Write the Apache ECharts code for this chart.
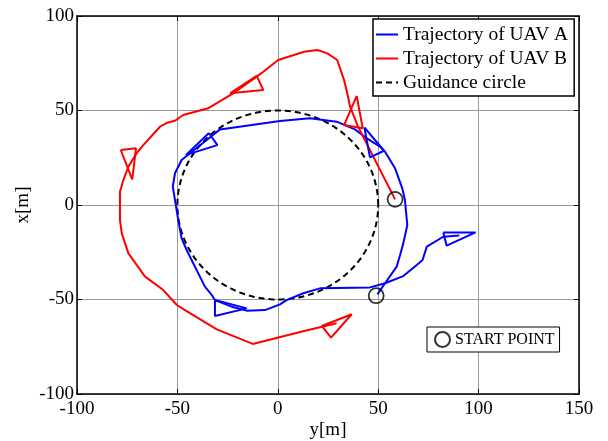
<!DOCTYPE html>
<html>
<head>
<meta charset="utf-8">
<script src="https://cdn.jsdelivr.net/npm/echarts@6/dist/echarts.min.js"></script>
<style>
    html, body { margin: 0; padding: 0; background: #fff; }
    #figure { width: 608px; height: 441px; }
</style>
</head>
<body>
<div id="figure"></div>
<script>
    // points are [y, x] in metres
    const trajA = [
        [49.6, -47.3], [53.4, -41.4], [59.2, -32.6], [60.9, -26.5], [62.5, -20.3], [64.5, -10.6],
        [63.3, 2.6], [62.0, 8.8], [58.4, 19.4], [53.4, 28.2], [50.9, 30.9], [44.3, 35.3],
        [38.4, 40.0], [29.3, 44.1], [16.0, 45.9], [1.1, 44.4], [-28.8, 40.0], [-32.9, 36.5],
        [-43.7, 27.4], [-47.9, 23.8], [-51.2, 16.8], [-52.3, 9.7], [-51.2, 2.6], [-50.4, -2.6],
        [-49.6, -7.9], [-47.9, -17.6], [-45.4, -23.8], [-36.3, -43.2], [-32.9, -47.6], [-31.3, -50.3],
        [-23.0, -53.8], [-15.5, -55.9], [-6.4, -55.6], [1.1, -52.6], [4.4, -50.3], [12.7, -46.7],
        [21.0, -44.1], [45.9, -43.6], [53.4, -41.4], [62.5, -37.6], [69.2, -31.7], [72.1, -29.1],
        [74.2, -22.0], [82.4, -16.8], [90.4, -16.2]
    ];
    const trajB = [
        [58.4, 3.0], [40.1, 41.1], [36.0, 52.0], [34.6, 59.1], [33.8, 59.1], [33.0, 66.1],
        [29.6, 76.7], [24.7, 80.2], [19.7, 82.0], [13.1, 81.1], [0.2, 76.7], [-7.2, 70.5],
        [-10.5, 67.9], [-22.2, 59.1], [-34.6, 51.2], [-47.1, 47.6], [-51.2, 44.6], [-55.3, 43.5],
        [-58.7, 41.4], [-67.0, 31.7], [-70.3, 27.4], [-74.4, 20.3], [-76.9, 13.2], [-78.6, 7.0],
        [-78.6, -7.9], [-77.7, -15.0], [-74.4, -25.6], [-66.1, -37.9], [-57.0, -45.0], [-50.3, -52.9],
        [-46.2, -55.6], [-30.4, -65.8], [-12.5, -73.5], [13.1, -66.7], [29.3, -62.6]
    ];
    // heading markers (closed triangles)
    const markersA = [
        [[-31.3, -50.3], [-31.3, -58.7], [-15.5, -54.7], [-31.3, -50.3]],
        [[-34.3, 38.1], [-30.1, 31.7], [-45.7, 26.5], [-34.3, 38.1]],
        [[43.1, 41.1], [52.9, 28.7], [45.9, 25.2], [43.1, 41.1]],
        [[82.4, -14.5], [98.5, -14.5], [84.1, -21.5], [82.4, -14.5]]
    ];
    const markersB = [
        [[-23.8, 59.1], [-10.5, 68.3], [-7.2, 60.8], [-23.8, 59.1]],
        [[-78.2, 29.1], [-70.6, 30.0], [-72.5, 13.6], [-78.2, 29.1]],
        [[39.3, 57.7], [33.0, 42.3], [42.3, 40.6], [39.3, 57.7]],
        [[21.9, -64.0], [36.8, -57.8], [26.5, -70.2], [21.9, -64.0]]
    ];
    const startPoints = [[49.0, -48.0], [58.4, 3.0]];
    const guideCircle = [[0, 0, 50]]; // centre y, centre x, radius
    const xTicks = [-100, 150, 50];
    const yTicks = [-100, 100, 50];

    const serif = 'Liberation Serif';
    const blue = '#0000ff';
    const red = '#ff0000';

    const axisCommon = {
        axisLine: {show: true, onZero: false, lineStyle: {color: '#000', width: 1.5}},
        axisTick: {show: true, inside: true, length: 5, lineStyle: {color: '#000'}},
        splitLine: {show: false}
    };

    const series = [];
    series.push({
        name: 'guide',
        type: 'custom',
        data: guideCircle,
        encode: {x: 0, y: 1},
        silent: true,
        z: 1,
        renderItem: function (params, api) {
            const cx = api.value(0), cy = api.value(1), r = api.value(2);
            const pts = [];
            for (let i = 0; i <= 180; i++) {
                const t = i / 180 * Math.PI * 2;
                pts.push(api.coord([cx + r * Math.cos(t), cy + r * Math.sin(t)]));
            }
            return {
                type: 'polyline',
                shape: {points: pts},
                style: {stroke: '#000', lineWidth: 2, lineDash: [6, 4], fill: null}
            };
        }
    });
    series.push({
        name: 'Trajectory of UAV A', type: 'line', data: trajA, symbol: 'none',
        lineStyle: {color: blue, width: 2}, itemStyle: {color: blue}, z: 3
    });
    series.push({
        name: 'Trajectory of UAV B', type: 'line', data: trajB, symbol: 'none',
        lineStyle: {color: red, width: 2}, itemStyle: {color: red}, z: 3
    });
    series.push({
        name: 'Guidance circle', type: 'line', data: [], symbol: 'none',
        lineStyle: {color: '#000', width: 2, type: [6, 4]}, itemStyle: {color: '#000'}
    });
    markersA.forEach(function (m) {
        series.push({type: 'line', data: m, symbol: 'none', lineStyle: {color: blue, width: 2}, z: 3});
    });
    markersB.forEach(function (m) {
        series.push({type: 'line', data: m, symbol: 'none', lineStyle: {color: red, width: 2}, z: 3});
    });
    series.push({
        name: 'START POINT', type: 'scatter', data: startPoints, symbol: 'circle', symbolSize: 15,
        itemStyle: {color: 'rgba(0,0,0,0)', borderColor: '#000', borderWidth: 1.8}, z: 4
    });

    const figure = echarts.init(document.getElementById('figure'));
    figure.setOption({
        animation: false,
        backgroundColor: '#fff',
        grid: {left: 77, right: 29, top: 16, bottom: 47, outerBoundsMode: 'none', containLabel: false},
        legend: [{
            data: ['Trajectory of UAV A', 'Trajectory of UAV B', 'Guidance circle'],
            orient: 'vertical',
            left: 373, top: 19,
            padding: [4, 6, 2, 2],
            itemGap: 1,
            itemWidth: 22, itemHeight: 14,
            itemStyle: {opacity: 0},
            borderColor: '#000', borderWidth: 1.5,
            backgroundColor: '#fff',
            textStyle: {fontFamily: serif, fontSize: 19.5, color: '#000', lineHeight: 23}
        }, {
            data: ['START POINT'],
            left: 427, top: 327,
            padding: [4, 5, 4, 7],
            itemWidth: 15, itemHeight: 15,
            borderColor: '#000', borderWidth: 1,
            backgroundColor: '#fff',
            textStyle: {fontFamily: serif, fontSize: 16, color: '#000'}
        }],
        xAxis: [Object.assign({}, axisCommon, {
            type: 'value', position: 'bottom',
            min: xTicks[0], max: xTicks[1], interval: xTicks[2],
            name: 'y[m]', nameLocation: 'middle', nameGap: 27, nameMoveOverlap: false,
            nameTextStyle: {fontFamily: serif, fontSize: 19, color: '#000'},
            axisLabel: {fontFamily: serif, fontSize: 19, color: '#000', margin: 6},
            splitLine: {show: true, lineStyle: {color: '#9a9a9a', width: 1}}
        }), Object.assign({}, axisCommon, {
            type: 'value', position: 'top',
            min: xTicks[0], max: xTicks[1], interval: xTicks[2],
            axisLabel: {show: false}
        })],
        yAxis: [Object.assign({}, axisCommon, {
            type: 'value', position: 'left',
            min: yTicks[0], max: yTicks[1], interval: yTicks[2],
            name: 'x[m]', nameLocation: 'middle', nameGap: 44, nameMoveOverlap: false,
            nameTextStyle: {fontFamily: serif, fontSize: 19, color: '#000'},
            axisLabel: {fontFamily: serif, fontSize: 19, color: '#000', margin: 3},
            splitLine: {show: true, lineStyle: {color: '#9a9a9a', width: 1}}
        }), Object.assign({}, axisCommon, {
            type: 'value', position: 'right',
            min: yTicks[0], max: yTicks[1], interval: yTicks[2],
            axisLabel: {show: false}
        })],
        series: series
    });
</script>
</body>
</html>
